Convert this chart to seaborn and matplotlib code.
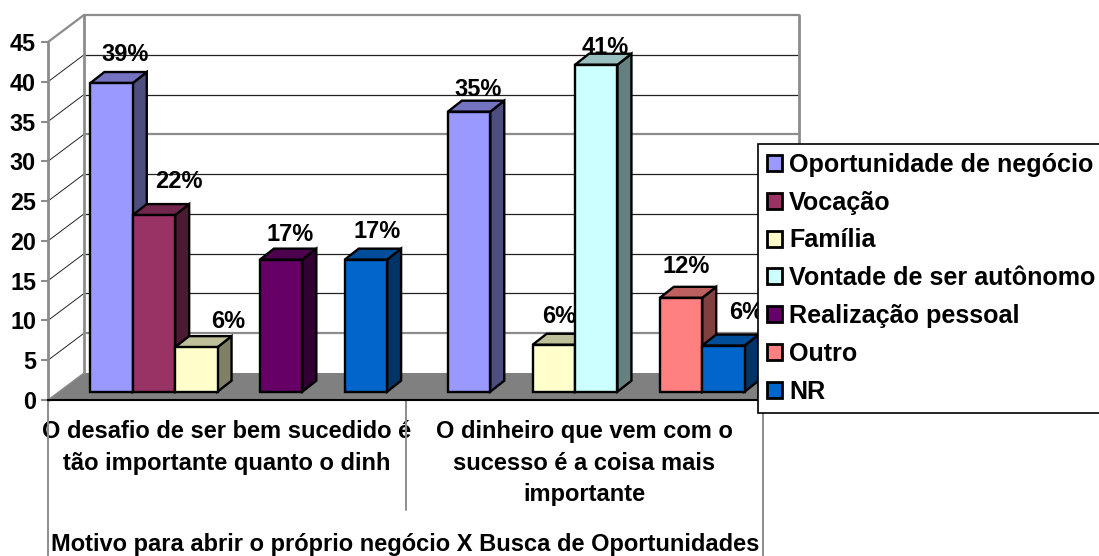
import numpy as np
import pandas as pd
import matplotlib
matplotlib.use("Agg")
import matplotlib.pyplot as plt
from matplotlib.patches import Patch, Polygon
from matplotlib.colors import to_rgb
import seaborn as sns

categories = ["O desafio de ser bem sucedido é\ntão importante quanto o dinh",
              "O dinheiro que vem com o\nsucesso é a coisa mais\nimportante"]
series = ["Oportunidade de negócio", "Vocação", "Família", "Vontade de ser autônomo",
          "Realização pessoal", "Outro", "NR"]
oportunidade = [38.8, 35.2]
vocacao = [22.2, np.nan]
familia = [5.6, 5.9]
vontade = [np.nan, 41.1]
realizacao = [16.6, np.nan]
outro = [np.nan, 11.8]
nr = [16.6, 5.8]
colors = ["#9999FF", "#993366", "#FFFFCC", "#CCFFFF", "#660066", "#FF8080", "#0066CC"]
yticks = [0, 5, 10, 15, 20, 25, 30, 35, 40, 45]
xtitle = "Motivo para abrir o próprio negócio X Busca de Oportunidades"
# label text and its offset (px) from the front-top centre of each bar, left to right
bar_labels = ["39%", "22%", "6%", "17%", "17%", "35%", "6%", "41%", "12%", "6%"]
label_offsets = [(14, -29), (25, -34), (32, -26), (9, -25), (11, -28),
                 (9, -22), (5, -28), (9, -17), (5, -31), (23, -33)]

W, H, DPI = 1099, 556, 100
FONT = "Liberation Sans"
GREY = "#8c8c8c"

sns.set_theme(style="white")
plt.rcParams["font.family"] = [FONT, "DejaVu Sans"]
plt.rcParams["font.weight"] = "bold"
plt.rcParams["text.color"] = "black"

rows = []
for name, vals in zip(series, [oportunidade, vocacao, familia, vontade, realizacao, outro, nr]):
    for c, v in zip(categories, vals):
        if not np.isnan(v):
            rows.append({"cat": c, "serie": name, "valor": v})
df = pd.DataFrame(rows)

fig = plt.figure(figsize=(W / DPI, H / DPI), dpi=DPI, facecolor="white")
ax = fig.add_axes([48 / W, 1 - 400 / H, 715 / W, 358 / H])
ax.patch.set_alpha(0)

sns.barplot(data=df, x="cat", y="valor", hue="serie", order=categories, hue_order=series,
            palette=colors, saturation=1, width=0.83, dodge=True, gap=0, legend=False,
            edgecolor="black", linewidth=1.7, ax=ax, errorbar=None)
ax.set_xlim(-0.5, 1.5)
ax.set_ylim(0, 45)

px_x = 1 / 357.5   # data units per pixel, x
px_y = 45 / 358    # data units per pixel, y
x0, x1 = -0.5, 1.5

# Box: floor, back wall, gridlines, side-wall lines
wdx, wdy = 36 * px_x, 27 * px_y
ax.add_patch(Polygon([(x0, 0), (x0 + wdx, wdy), (x1 + wdx, wdy), (x1, 0)], closed=True,
                     fc="#808080", ec="none", clip_on=False, zorder=1))
for v in yticks[1:]:
    heavy = v in (5, 30, 45)
    c = GREY if heavy else "#222222"
    lw = 1.6 if heavy else 0.9
    ax.plot([x0, x0 + wdx], [v, v + wdy], color=GREY if v == 45 else "#222222",
            lw=1.6 if v == 45 else 0.7, clip_on=False, zorder=1.1)
    ax.plot([x0 + wdx, x1 + wdx], [v + wdy, v + wdy], color=c, lw=lw, clip_on=False, zorder=1.1)
ax.plot([x0 + wdx, x0 + wdx], [wdy, 45 + wdy], color=GREY, lw=2, clip_on=False, zorder=1.2)
ax.plot([x1 + wdx, x1 + wdx], [wdy, 45 + wdy], color=GREY, lw=2, clip_on=False, zorder=1.2)
ax.plot([x0, x0 + wdx], [0, wdy], color=GREY, lw=1, clip_on=False, zorder=1.2)

# 3D extrusion of each bar, built from the rectangles drawn by seaborn
bars = sorted([p for p in ax.patches if isinstance(p, matplotlib.patches.Rectangle)
               and p.get_height() > 0], key=lambda p: p.get_x())
sx, sy = 12 * px_x, 8.3 * px_y     # shift of the bar row into the box
bdx, bdy = 14 * px_x, 11 * px_y    # depth of a bar
for i, (bar, lab, off) in enumerate(zip(bars, bar_labels, label_offsets)):
    bar.set_x(bar.get_x() + sx)
    bar.set_y(sy)
    z = 3 + i * 0.1
    bar.set_zorder(z + 0.02)
    bar.set_joinstyle("miter")
    x, w, h = bar.get_x(), bar.get_width(), bar.get_height()
    y = sy
    rgb = np.array(to_rgb(bar.get_facecolor()))
    ax.add_patch(Polygon([(x + w, y), (x + w + bdx, y + bdy), (x + w + bdx, y + h + bdy), (x + w, y + h)],
                         closed=True, fc=rgb * 0.5, ec="black", lw=1.7, clip_on=False, zorder=z))
    ax.add_patch(Polygon([(x, y + h), (x + bdx, y + h + bdy), (x + w + bdx, y + h + bdy), (x + w, y + h)],
                         closed=True, fc=rgb * 0.75, ec="black", lw=1.7, clip_on=False, zorder=z + 0.01))
    ax.annotate(lab, (x + w / 2, y + h), xytext=(off[0], -off[1]), textcoords="offset pixels",
                ha="center", va="center", fontsize=17, fontweight="bold", color="black",
                annotation_clip=False, zorder=50)

# Axes furniture
sns.despine(ax=ax, top=True, right=True)
ax.spines["left"].set_color(GREY)
ax.spines["left"].set_linewidth(2)
ax.spines["bottom"].set_color("black")
ax.spines["bottom"].set_linewidth(1.5)
ax.spines["bottom"].set_zorder(10)
ax.set_yticks(yticks)
ax.set_yticklabels([str(v) for v in yticks], fontsize=16.8, fontweight="bold", color="black")
ax.tick_params(axis="y", left=True, length=5, width=1.5, color=GREY, pad=3.6)
ax.set_xticks([0, 1])
ax.set_xticklabels(categories, fontsize=17, fontweight="bold", color="black", linespacing=1.48)
ax.tick_params(axis="x", bottom=False, length=0, pad=14.3)
ax.set_ylabel("")
ax.set_xlabel(xtitle, fontsize=17, fontweight="bold", color="black", va="center")
ax.xaxis.set_label_coords(0.499, -(545 - 400) / 358)

# Category separators below the axis
for x, bottom in [(x0, -156 * px_y), (0.5, -110 * px_y), (x1, -156 * px_y)]:
    ax.plot([x, x], [0, bottom], color=GREY, lw=1.4, clip_on=False, zorder=1.5)

# Legend
handles = [Patch(fc=c, ec="black", lw=2, label=s) for c, s in zip(colors, series)]
leg = ax.legend(handles=handles, loc="upper left", bbox_to_anchor=(758 / W, 1 - 143.7 / H),
                bbox_transform=fig.transFigure, prop={"family": FONT, "weight": "bold", "size": 18.1},
                labelcolor="black",
                frameon=True, fancybox=False, edgecolor="black", facecolor="white", framealpha=1,
                borderpad=0.36, labelspacing=0.55, handlelength=0.6, handleheight=0.6,
                handletextpad=0.27, borderaxespad=0)
leg.get_frame().set_linewidth(1.2)
leg.set_zorder(100)

fig.savefig("out.png", dpi=DPI)
